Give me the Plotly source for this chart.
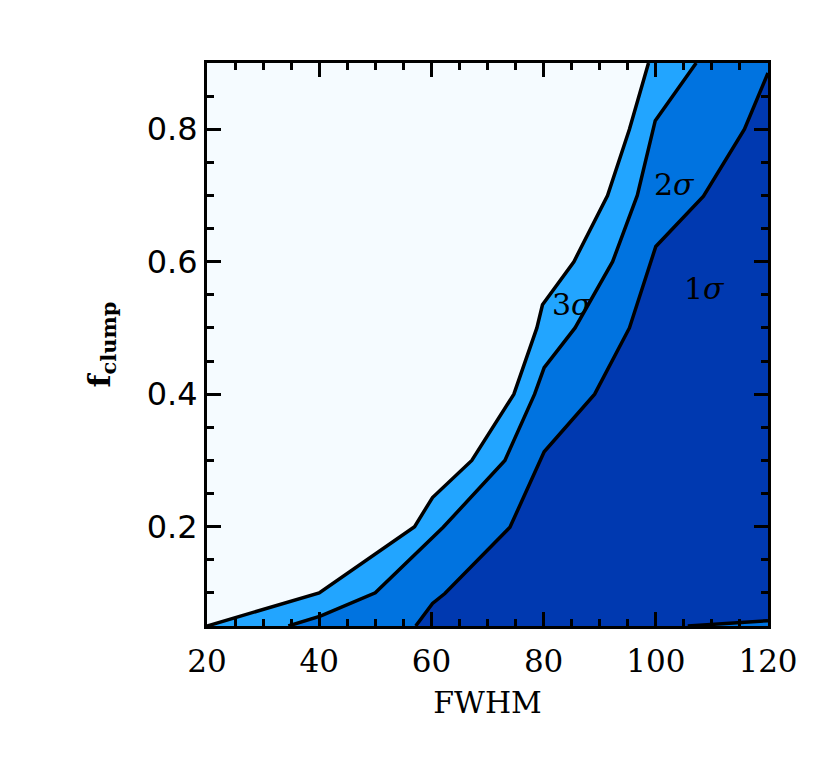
import plotly.graph_objects as go

# contour boundaries (FWHM, f_clump)
x_3sig = [20, 40, 57, 60.2, 67.2, 74.7, 78.8, 79.8, 85.4, 91.4, 95.3, 98.7]
y_3sig = [0.05, 0.1, 0.2, 0.244, 0.30, 0.40, 0.50, 0.535, 0.60, 0.70, 0.80, 0.90]

x_2sig = [34.5, 40.2, 50, 60, 62.1, 73.1, 78.4, 80.1, 85.6, 92.3, 96.7, 99.9, 107.2]
y_2sig = [0.05, 0.065, 0.10, 0.182, 0.199, 0.30, 0.40, 0.44, 0.50, 0.60, 0.70, 0.813, 0.90]

x_1sig = [57.2, 60.2, 62.4, 74, 80.1, 89.1, 95.3, 100, 108.5, 115.8, 120]
y_1sig = [0.05, 0.084, 0.099, 0.199, 0.313, 0.40, 0.50, 0.623, 0.699, 0.80, 0.885]

x_low = [105.7, 120]
y_low = [0.05, 0.058]

labels = ['3<i>σ</i>', '2<i>σ</i>', '1<i>σ</i>']
label_x = [85.2, 103.4, 108.7]
label_y = [0.536, 0.716, 0.559]

xmin, xmax, ymin, ymax = 20, 120, 0.05, 0.9

c_bg = '#F5FBFF'
c_3 = '#22A5FF'
c_2 = '#0073E0'
c_1 = '#0039B0'

fig = go.Figure()


def region(xs, ys, color):
    # close the polygon along the lower-right corner of the box
    px = list(xs) + [xmax, xmax, xs[0]]
    py = list(ys) + [ymax if ys[-1] >= ymax else ys[-1], ymin, ymin]
    fig.add_trace(go.Scatter(x=px, y=py, mode='lines', fill='toself', fillcolor=color,
                             line=dict(width=0), hoverinfo='skip', showlegend=False))


region(x_3sig, y_3sig, c_3)
region(x_2sig, y_2sig, c_2)
region(x_1sig, y_1sig, c_1)
# small sliver outside 1 sigma at the bottom right
fig.add_trace(go.Scatter(x=x_low + [xmax, x_low[0]], y=y_low + [ymin, ymin], mode='lines',
                         fill='toself', fillcolor=c_2, line=dict(width=0),
                         hoverinfo='skip', showlegend=False))

for xs, ys in [(x_3sig, y_3sig), (x_2sig, y_2sig), (x_1sig, y_1sig), (x_low, y_low)]:
    fig.add_trace(go.Scatter(x=xs, y=ys, mode='lines', line=dict(color='black', width=3.5),
                             hoverinfo='skip', showlegend=False))

for t, lx, ly in zip(labels, label_x, label_y):
    fig.add_annotation(x=lx, y=ly, text=t, showarrow=False,
                       font=dict(family='DejaVu Serif', size=30, color='black'))

axis_common = dict(showgrid=False, zeroline=False, showline=True, mirror='allticks',
                   linecolor='black', linewidth=3, ticks='inside', tickcolor='black',
                   ticklen=14, tickwidth=3)

fig.update_xaxes(range=[xmin, xmax], tickvals=[20, 40, 60, 80, 100, 120],
                 tickfont=dict(family='DejaVu Serif', size=31, color='black'),
                 ticklabelstandoff=6,
                 minor=dict(dtick=5, tick0=20, ticks='inside', ticklen=7, tickwidth=2.5,
                            tickcolor='black'),
                 title=dict(text='FWHM', font=dict(family='DejaVu Serif', size=30, color='black'),
                            standoff=14),
                 **axis_common)
fig.update_yaxes(range=[ymin, ymax], tickvals=[0.2, 0.4, 0.6, 0.8],
                 ticktext=['0.2', '0.4', '0.6', '0.8'],
                 tickfont=dict(family='DejaVu Sans', size=32, color='black'),
                 minor=dict(dtick=0.05, tick0=0, ticks='inside', ticklen=7, tickwidth=2.5,
                            tickcolor='black'),
                 title=dict(text='<b>f<sub>clump</sub></b>',
                            font=dict(family='DejaVu Serif', size=30, color='black'),
                            standoff=28),
                 **axis_common)

# the page body adds an 8 px offset, margins are set to compensate
fig.update_layout(width=830, height=758, plot_bgcolor=c_bg, paper_bgcolor='white',
                  margin=dict(l=199, r=70, t=55, b=140))

fig.write_html('out.html')
